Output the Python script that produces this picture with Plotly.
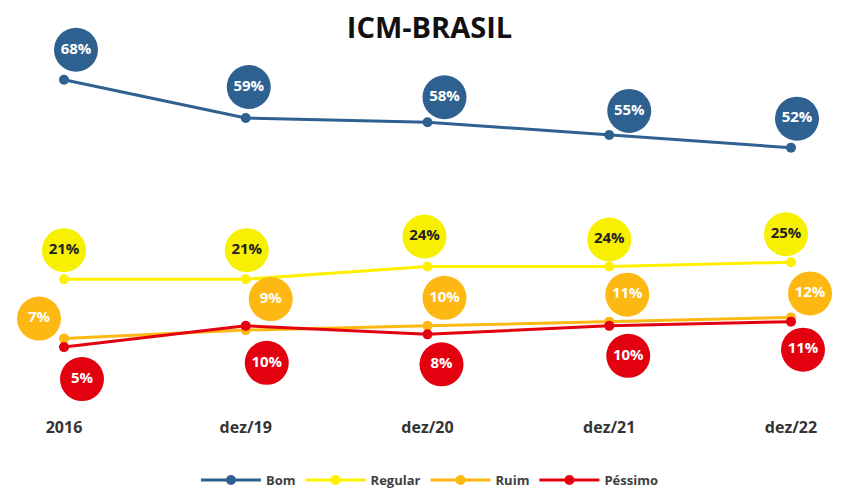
import plotly.graph_objects as go

# ---- data ----
periods = ["2016", "dez/19", "dez/20", "dez/21", "dez/22"]
bom = [68, 59, 58, 55, 52]
regular = [21, 21, 24, 24, 25]
ruim = [7, 9, 10, 11, 12]
pessimo = [5, 10, 8, 10, 11]
title_text = "ICM-BRASIL"

# ---- layout geometry (pixels inside the figure) ----
W, H = 843, 499
ML, MR, MT, MB = 10, 10, 30, 91
X0_PX, X_STEP_PX = 56, 181.75          # pixel of first category, spacing
Y_ZERO_PX, Y_UNIT_PX = 360.3, 4.243    # pixel of value 0, pixels per unit

x_range = [(ML - X0_PX) / X_STEP_PX, (W - MR - X0_PX) / X_STEP_PX]
y_range = [(Y_ZERO_PX - (H - MB)) / Y_UNIT_PX, (Y_ZERO_PX - MT) / Y_UNIT_PX]
plot_h = H - MT - MB

# bubble offsets from their point, in pixels (dx right, dy down)
bubble_px = {
    "Bom": [(12, -30), (3, -31), (17, -25), (20, -24), (6, -29)],
    "Regular": [(0, -29), (1, -29), (-3, -30), (0, -27), (-5, -28)],
    "Ruim": [(-25, -20), (25, -31), (17, -28), (18, -27), (19, -24)],
    "Péssimo": [(18, 32), (21, 37), (14, 30), (19, 30), (12, 28)],
}

x_idx = list(range(len(periods)))
series = [
    ("Bom", bom, "#2F6190", "#2F6190", "white"),
    ("Regular", regular, "#FFF000", "#F7F000", "#222222"),
    ("Ruim", ruim, "#FDB813", "#FDB813", "white"),
    ("Péssimo", pessimo, "#E3000F", "#E3000F", "white"),
]

fig = go.Figure()
for name, vals, lc, bc, tc in series:
    fig.add_trace(go.Scatter(
        x=x_idx, y=vals, mode="lines+markers", name=name,
        line=dict(color=lc, width=3), marker=dict(color=lc, size=10),
        hoverinfo="skip",
    ))
for name, vals, lc, bc, tc in series:
    offs = bubble_px[name]
    fig.add_trace(go.Scatter(
        x=[i + dx / X_STEP_PX for i, (dx, dy) in zip(x_idx, offs)],
        y=[v - dy / Y_UNIT_PX for v, (dx, dy) in zip(vals, offs)],
        mode="markers+text", showlegend=False, cliponaxis=False,
        text=[f"{v}%" for v in vals], textposition="middle center",
        textfont=dict(color=tc, size=15, family="Open Sans", weight="bold"),
        marker=dict(color=bc, size=44, line=dict(width=0)),
        hoverinfo="skip",
    ))

fig.update_layout(
    width=W, height=H,
    margin=dict(l=ML, r=MR, t=MT, b=MB, autoexpand=False),
    paper_bgcolor="white", plot_bgcolor="white",
    title=dict(text=title_text, x=0.5, xanchor="center", y=1 - 20 / H, yanchor="middle",
               font=dict(family="Open Sans", size=29, color="#111111", weight="bold")),
    xaxis=dict(range=x_range, tickvals=x_idx, ticktext=periods,
               showgrid=False, zeroline=False, showline=False, ticks="",
               tickfont=dict(family="Open Sans", size=16, color="#333333", weight="bold")),
    yaxis=dict(range=y_range, visible=False),
    legend=dict(orientation="h", x=0.5, xanchor="center",
                y=-(472 - (H - MB)) / plot_h, yanchor="middle",
                font=dict(family="Open Sans", size=13, color="#404040", weight="bold"),
                itemwidth=60),
    showlegend=True,
)

fig.write_html("out.html")
